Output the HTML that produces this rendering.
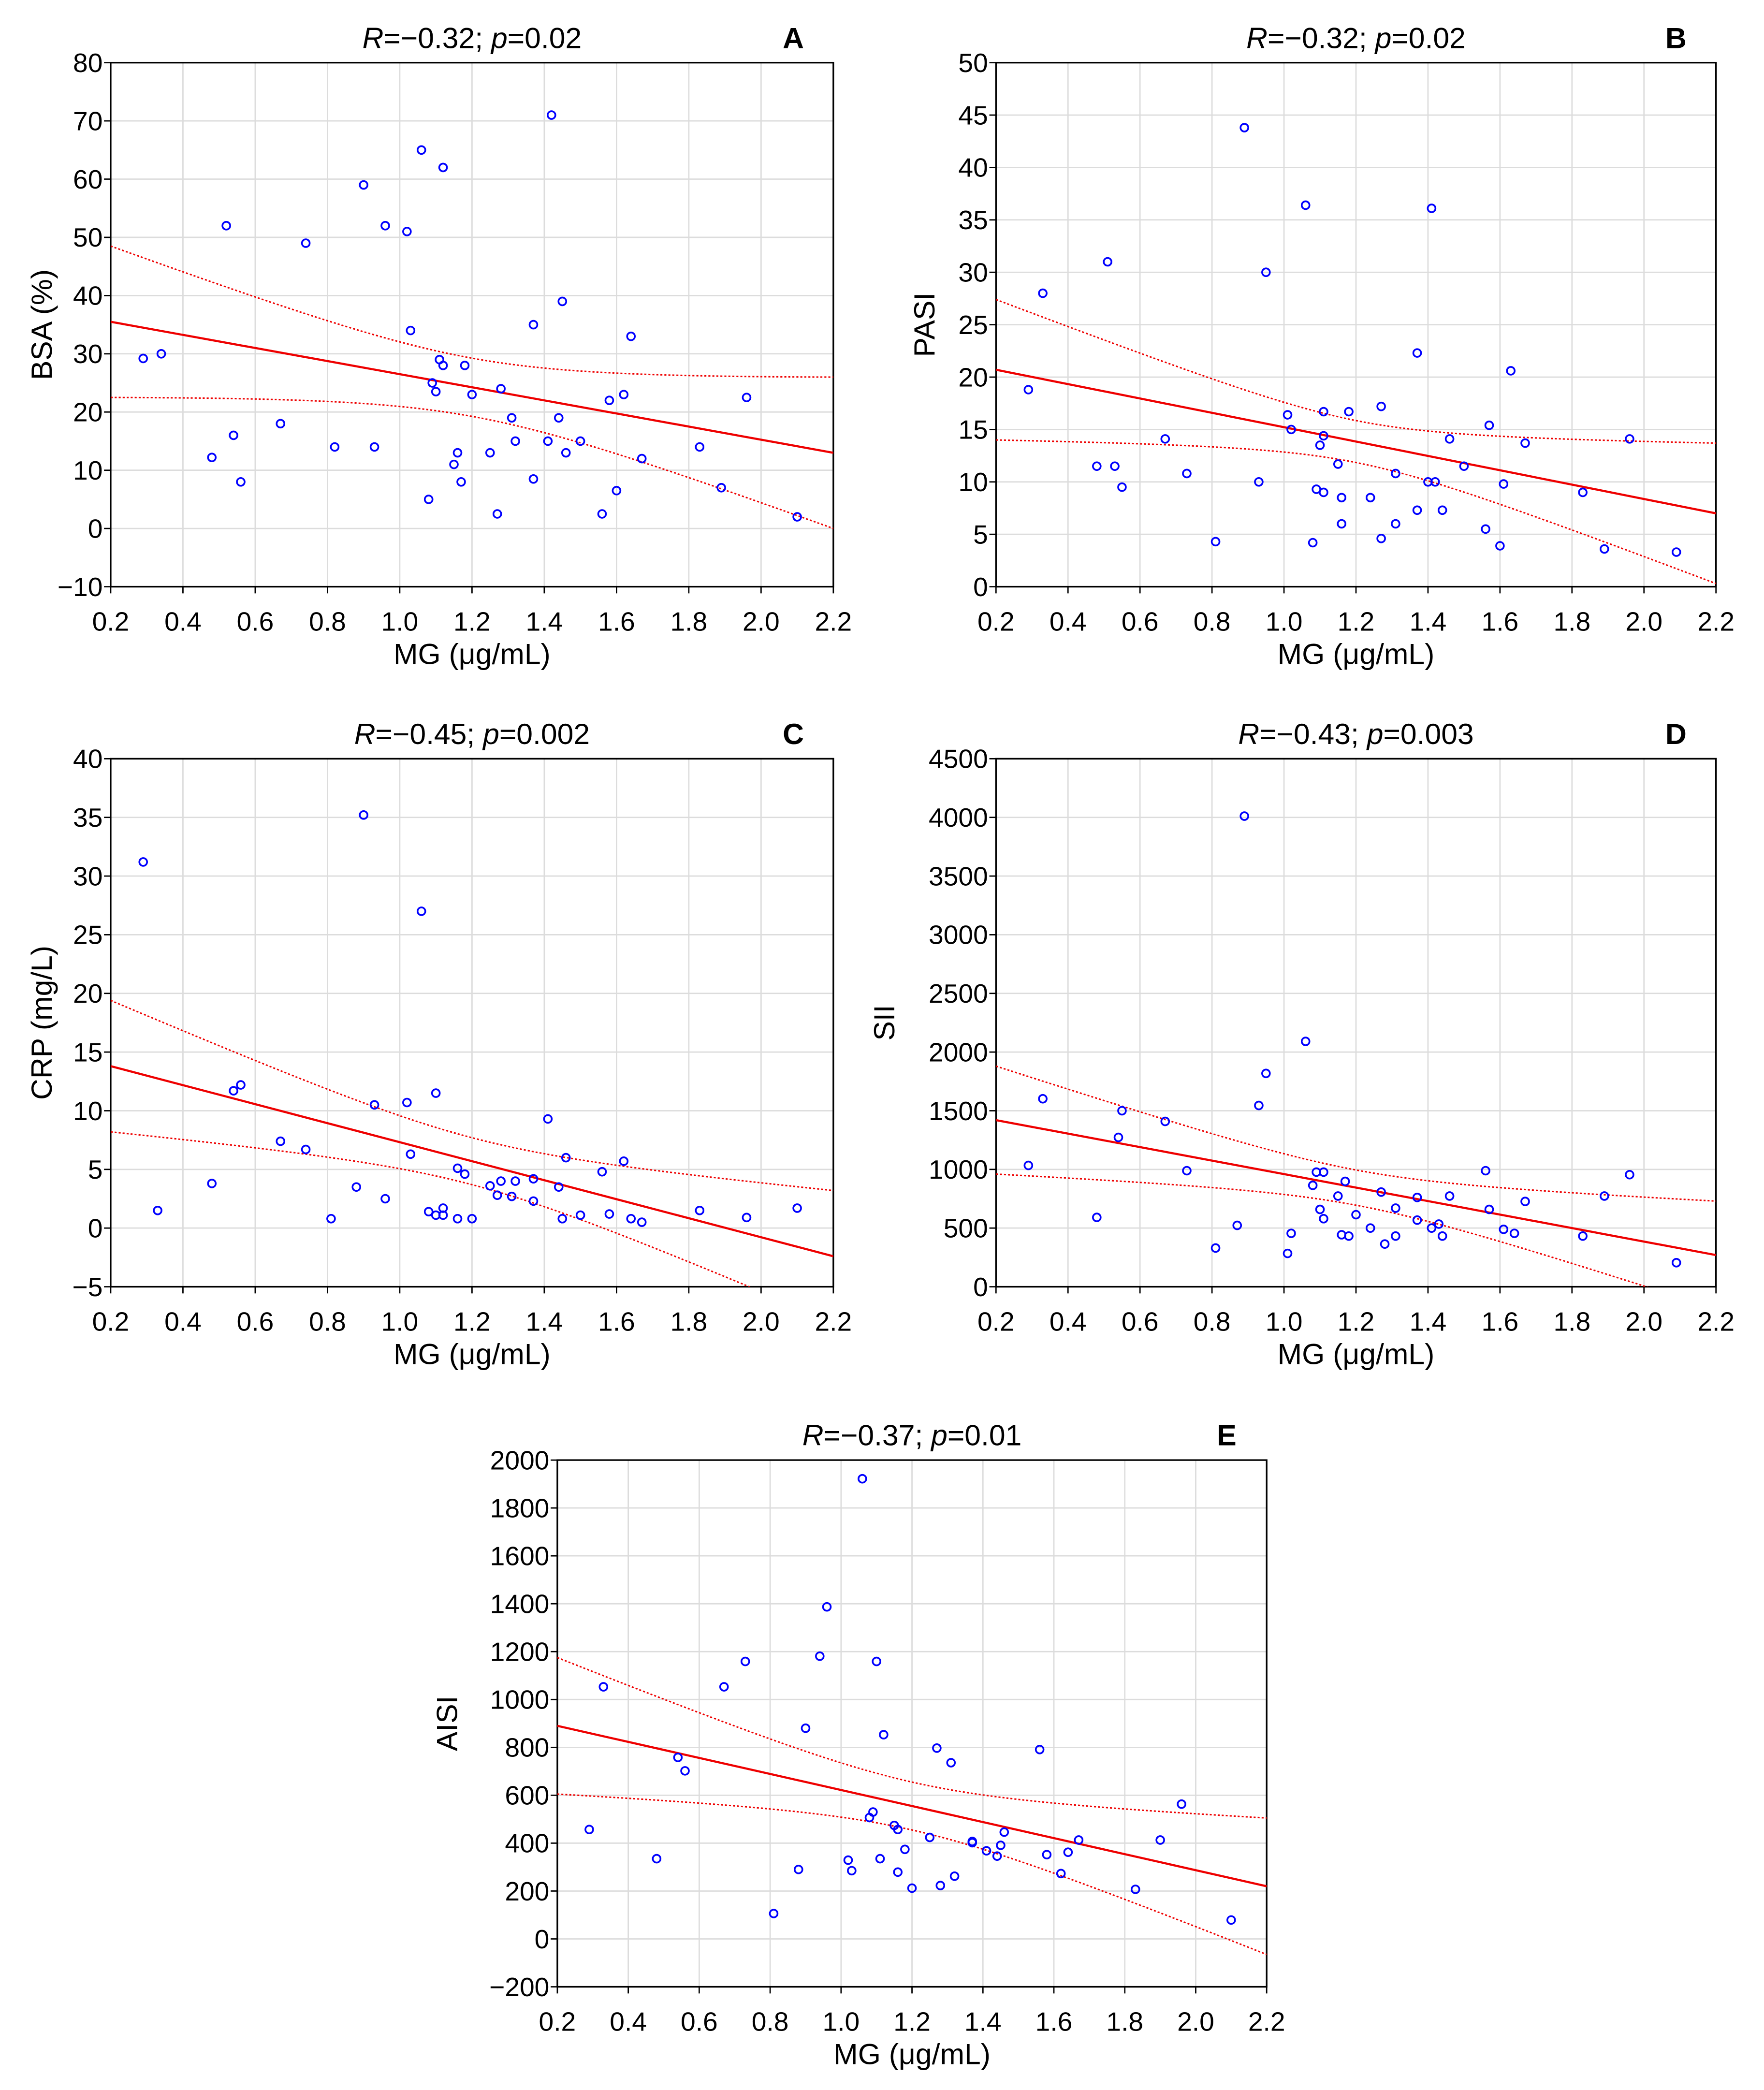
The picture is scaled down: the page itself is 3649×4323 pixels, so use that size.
<!DOCTYPE html>
<html><head><meta charset="utf-8">
<style>html,body{margin:0;padding:0;background:#fff}svg{display:block}</style>
</head><body>
<svg id="chart" width="3649" height="4323" viewBox="0 0 1323 1567.4" xmlns="http://www.w3.org/2000/svg" font-family="'Liberation Sans', sans-serif"></svg>
<script>
const xA=[0.29,0.34,0.48,0.52,0.54,0.56,0.67,0.74,0.82,0.90,0.93,0.96,1.02,1.03,1.06,1.08,1.09,1.10,1.11,1.12,1.12,1.15,1.16,1.17,1.18,1.20,1.25,1.27,1.28,1.31,1.32,1.37,1.37,1.41,1.42,1.44,1.45,1.46,1.50,1.56,1.58,1.60,1.62,1.64,1.67,1.83,1.89,1.96,2.10];
const yA=[29.2,30,12.2,52,16,8,18,49,14,59,14,52,51,34,65,5,25,23.5,29,62,28,11,13,8,28,23,13,2.5,24,19,15,8.5,35,15,71,19,39,13,15,2.5,22,6.5,23,33,12,14,7,22.5,2];
const xB=[0.29,0.33,0.48,0.51,0.53,0.55,0.67,0.73,0.81,0.89,0.93,0.95,1.01,1.02,1.06,1.08,1.09,1.10,1.11,1.11,1.11,1.15,1.16,1.16,1.18,1.24,1.27,1.27,1.31,1.31,1.37,1.37,1.40,1.41,1.42,1.44,1.46,1.50,1.56,1.57,1.60,1.61,1.63,1.67,1.83,1.89,1.96,2.09];
const yB=[18.8,28,11.5,31,11.5,9.5,14.1,10.8,4.3,43.8,10,30,16.4,15,36.4,4.2,9.3,13.5,16.7,9,14.4,11.7,6,8.5,16.7,8.5,4.6,17.2,6,10.8,7.3,22.3,10,36.1,10,7.3,14.1,11.5,5.5,15.4,3.9,9.8,20.6,13.7,9,3.6,14.1,3.3];
const xC=[0.29,0.33,0.48,0.54,0.56,0.67,0.74,0.81,0.88,0.90,0.93,0.96,1.02,1.03,1.06,1.08,1.10,1.10,1.12,1.12,1.16,1.16,1.18,1.20,1.25,1.27,1.28,1.31,1.32,1.37,1.37,1.41,1.44,1.45,1.46,1.50,1.56,1.58,1.62,1.64,1.67,1.83,1.96,2.10];
const yC=[31.2,1.5,3.8,11.7,12.2,7.4,6.7,0.8,3.5,35.2,10.5,2.5,10.7,6.3,27,1.4,11.5,1.1,1.1,1.7,0.8,5.1,4.6,0.8,3.6,2.8,4,2.7,4,4.2,2.3,9.3,3.5,0.8,6,1.1,4.8,1.2,5.7,0.8,0.5,1.5,0.9,1.7];
const xD=[0.29,0.33,0.48,0.54,0.55,0.67,0.73,0.81,0.87,0.89,0.93,0.95,1.01,1.02,1.06,1.08,1.09,1.10,1.11,1.11,1.15,1.16,1.17,1.18,1.20,1.24,1.27,1.28,1.31,1.31,1.37,1.37,1.41,1.43,1.44,1.46,1.56,1.57,1.61,1.64,1.67,1.83,1.89,1.96,2.09];
const yD=[1034,1602,591,1273,1500,1409,989,330,523,4011,1545,1818,284,455,2091,864,977,659,580,977,773,443,898,432,614,500,807,364,670,432,761,568,500,534,432,773,989,659,489,455,727,432,773,955,205];
const xE=[0.29,0.33,0.48,0.54,0.56,0.67,0.73,0.81,0.88,0.90,0.94,0.96,1.02,1.03,1.06,1.08,1.09,1.10,1.11,1.12,1.15,1.16,1.16,1.18,1.20,1.25,1.27,1.28,1.31,1.32,1.37,1.37,1.41,1.44,1.45,1.46,1.56,1.58,1.62,1.64,1.67,1.83,1.90,1.96,2.10];
const yE=[457,1053,335,758,702,1053,1159,106,290,880,1181,1387,329,285,1922,507,530,1159,335,853,474,457,279,374,212,424,797,223,736,262,402,407,368,346,391,446,791,352,273,362,413,207,413,563,79];
const xTicks=[0.2,0.4,0.6,0.8,1.0,1.2,1.4,1.6,1.8,2.0,2.2];
const fitStartA=35.5, fitEndA=13, bandA=[13,5];
const fitStartB=20.7, fitEndB=7, bandB=[6.7,2];
const fitStartC=13.8, fitEndC=-2.4, bandC=[5.6,2];
const fitStartD=1420, fitEndD=270, bandD=[460,150];
const fitStartE=890, fitEndE=220, bandE=[285,100];

const svg=document.getElementById('chart');
const NS='http://www.w3.org/2000/svg';
function mk(tag,attrs,parent){const e=document.createElementNS(NS,tag);for(const k in attrs)e.setAttribute(k,attrs[k]);(parent||svg).appendChild(e);return e;}
function fmt(v){return v<0?'\u2212'+(-v):String(v);}

const panels=[
 {id:'a',L:83,R:625,T:47,B:440,ymin:-10,ymax:80,step:10,x:xA,y:yA,fs:fitStartA,fe:fitEndA,band:bandA,title:['−0.32','0.02'],letter:'A',ylab:'BSA (%)',ylx:33},
 {id:'b',L:747,R:1287,T:47,B:440,ymin:0,ymax:50,step:5,x:xB,y:yB,fs:fitStartB,fe:fitEndB,band:bandB,title:['−0.32','0.02'],letter:'B',ylab:'PASI',ylx:695},
 {id:'c',L:83,R:625,T:569,B:965,ymin:-5,ymax:40,step:5,x:xC,y:yC,fs:fitStartC,fe:fitEndC,band:bandC,title:['−0.45','0.002'],letter:'C',ylab:'CRP (mg/L)',ylx:33},
 {id:'d',L:747,R:1287,T:569,B:965,ymin:0,ymax:4500,step:500,x:xD,y:yD,fs:fitStartD,fe:fitEndD,band:bandD,title:['−0.43','0.003'],letter:'D',ylab:'SII',ylx:665},
 {id:'e',L:418,R:950,T:1095,B:1490,ymin:-200,ymax:2000,step:200,x:xE,y:yE,fs:fitStartE,fe:fitEndE,band:bandE,title:['−0.37','0.01'],letter:'E',ylab:'AISI',ylx:337}
];

panels.forEach(p=>{
 const g=mk('g',{});
 
 
 const sx=v=>p.L+(v-0.2)/2.0*(p.R-p.L);
 const sy=v=>p.B-(v-p.ymin)/(p.ymax-p.ymin)*(p.B-p.T);
 const cp=mk('clipPath',{id:'clip'+p.id},g);
 mk('rect',{x:p.L,y:p.T,width:p.R-p.L,height:p.B-p.T},cp);
 // grid
 xTicks.forEach(t=>{
  const l=mk('line',{x1:sx(t),x2:sx(t),y1:p.T,y2:p.B,stroke:'#dcdcdc','stroke-width':1},g);
  
  
  const tx=mk('text',{x:sx(t),y:p.B+33,'text-anchor':'middle','font-size':20},g);
  tx.textContent=t.toFixed(1);
  
  
  mk('line',{x1:sx(t),x2:sx(t),y1:p.B,y2:p.B+5,stroke:'#000'},g);
 });
 for(let v=p.ymin;v<=p.ymax+1e-9;v+=p.step){
  const l=mk('line',{x1:p.L,x2:p.R,y1:sy(v),y2:sy(v),stroke:'#dcdcdc','stroke-width':1},g);
  
  
  const tx=mk('text',{x:p.L-6,y:sy(v)+7,'text-anchor':'end','font-size':20},g);
  tx.textContent=fmt(v);
  
  
  mk('line',{x1:p.L-5,x2:p.L,y1:sy(v),y2:sy(v),stroke:'#000'},g);
 }
 const fr=mk('rect',{x:p.L,y:p.T,width:p.R-p.L,height:p.B-p.T,fill:'none',stroke:'#000','stroke-width':1.2},g);
 
 
 // fit
 const fit=x=>p.fs+(p.fe-p.fs)*(x-0.2)/2.0;
 const xm=1.2, hw0=p.band[1], k=Math.sqrt(Math.max(p.band[0]*p.band[0]-hw0*hw0,0));
 const hw=x=>Math.sqrt(hw0*hw0+k*k*(x-xm)*(x-xm));
 const cg=mk('g',{'clip-path':'url(#clip'+p.id+')'},g);
 let up='',lo='';
 for(let i=0;i<=100;i++){const x=0.2+2.0*i/100;up+=(i?'L':'M')+sx(x).toFixed(2)+','+sy(fit(x)+hw(x)).toFixed(2);lo+=(i?'L':'M')+sx(x).toFixed(2)+','+sy(fit(x)-hw(x)).toFixed(2);}
 const u=mk('path',{d:up,fill:'none',stroke:'#e00','stroke-width':1.1,'stroke-dasharray':'1.5,1.5'},cg);
 
 
 const lw=mk('path',{d:lo,fill:'none',stroke:'#e00','stroke-width':1.1,'stroke-dasharray':'1.5,1.5'},cg);
 
 
 const rl=mk('line',{x1:sx(0.2),y1:sy(fit(0.2)),x2:sx(2.2),y2:sy(fit(2.2)),stroke:'#e00','stroke-width':1.6},cg);
 
 
 p.x.forEach((xv,i)=>{
  const c=mk('circle',{cx:sx(xv),cy:sy(p.y[i]),r:2.9,fill:'none',stroke:'#00f','stroke-width':1.3},cg);
  
  
 });
 // titles
 const cx=(p.L+p.R)/2;
 const t=mk('text',{x:cx,y:p.T-11,'text-anchor':'middle','font-size':22},g);
 t.innerHTML='<tspan font-style="italic">R</tspan>='+p.title[0]+'; <tspan font-style="italic">p</tspan>='+p.title[1];
 
 
 const lt=mk('text',{x:p.R-30,y:p.T-11,'text-anchor':'middle','font-size':22,'font-weight':'bold'},g);
 lt.textContent=p.letter;
 
 
 const xl=mk('text',{x:cx,y:p.B+58,'text-anchor':'middle','font-size':22},g);
 xl.textContent='MG (\u03bcg/mL)';
 
 
 const yc=(p.T+p.B)/2;
 const yl=mk('text',{x:p.ylx,y:yc,'text-anchor':'middle','font-size':22,transform:'rotate(-90 '+p.ylx+' '+yc+')','dominant-baseline':'middle'},g);
 yl.textContent=p.ylab;
 
 
});
</script>
</body></html>
